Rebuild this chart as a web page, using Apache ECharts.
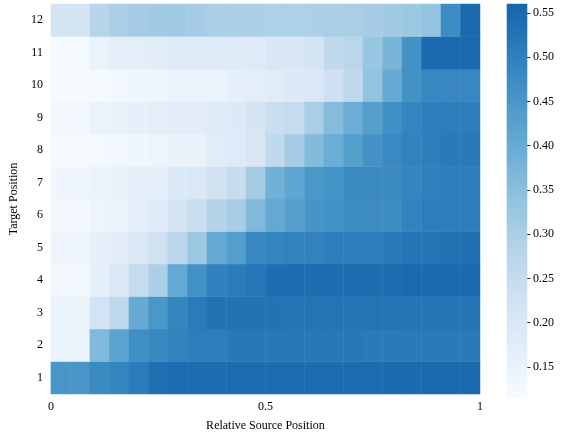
<!DOCTYPE html>
<html>
<head>
<meta charset="utf-8">
<script src="https://cdn.jsdelivr.net/npm/echarts@6/dist/echarts.min.js"></script>
<style>
html,body{margin:0;padding:0;background:#fff;}
#chart{width:566px;height:437px;}
</style>
</head>
<body>
<div id="chart"></div>
<script>
// Source-position bins (22 bins spanning 0..1)
const sourceBins = ['b0','b1','b2','b3','b4','b5','b6','b7','b8','b9','b10','b11','b12','b13','b14','b15','b16','b17','b18','b19','b20','b21'];
const targetPositions = ['1','2','3','4','5','6','7','8','9','10','11','12'];
const xTickValues = [0, 0.5, 1];
const colorbarTicks = [0.15, 0.20, 0.25, 0.30, 0.35, 0.40, 0.45, 0.50, 0.55];
const colorMin = 0.115;
const colorMax = 0.56;

const target1  = [0.45,0.45,0.478,0.49,0.51,0.537,0.545,0.545,0.545,0.545,0.545,0.545,0.545,0.545,0.545,0.545,0.545,0.547,0.548,0.55,0.55,0.55];
const target2  = [0.152,0.152,0.365,0.418,0.47,0.483,0.495,0.508,0.508,0.518,0.518,0.518,0.518,0.518,0.518,0.518,0.515,0.515,0.515,0.515,0.515,0.515];
const target3  = [0.15,0.15,0.218,0.262,0.4,0.448,0.49,0.512,0.53,0.53,0.53,0.53,0.528,0.528,0.528,0.528,0.528,0.528,0.525,0.525,0.525,0.525];
const target4  = [0.133,0.133,0.165,0.198,0.25,0.3,0.405,0.462,0.497,0.51,0.522,0.54,0.54,0.54,0.54,0.54,0.54,0.54,0.55,0.55,0.55,0.55];
const target5  = [0.14,0.14,0.165,0.175,0.195,0.225,0.27,0.325,0.405,0.432,0.485,0.49,0.495,0.495,0.505,0.508,0.508,0.515,0.525,0.525,0.53,0.535];
const target6  = [0.128,0.128,0.143,0.152,0.17,0.182,0.21,0.24,0.283,0.305,0.365,0.405,0.43,0.455,0.462,0.475,0.475,0.475,0.495,0.508,0.508,0.508];
const target7  = [0.135,0.135,0.147,0.155,0.163,0.165,0.192,0.196,0.22,0.245,0.308,0.385,0.415,0.447,0.458,0.478,0.478,0.478,0.49,0.5,0.508,0.508];
const target8  = [0.12,0.12,0.125,0.13,0.137,0.142,0.155,0.155,0.178,0.188,0.2,0.26,0.31,0.36,0.395,0.43,0.46,0.48,0.495,0.505,0.515,0.515];
const target9  = [0.133,0.133,0.15,0.155,0.163,0.17,0.175,0.175,0.185,0.192,0.208,0.24,0.25,0.302,0.358,0.395,0.43,0.468,0.49,0.508,0.508,0.508];
const target10 = [0.118,0.118,0.12,0.128,0.135,0.14,0.152,0.152,0.152,0.163,0.17,0.178,0.19,0.198,0.23,0.26,0.34,0.40,0.46,0.485,0.485,0.485];
const target11 = [0.12,0.12,0.15,0.168,0.17,0.175,0.183,0.183,0.185,0.185,0.186,0.2,0.2,0.215,0.26,0.275,0.33,0.375,0.46,0.55,0.55,0.55];
const target12 = [0.21,0.21,0.28,0.30,0.31,0.315,0.315,0.31,0.30,0.30,0.295,0.293,0.293,0.295,0.30,0.302,0.31,0.315,0.325,0.34,0.475,0.55];

const rows = [target1,target2,target3,target4,target5,target6,target7,target8,target9,target10,target11,target12];
const heatData = [];
rows.forEach((row, yi) => row.forEach((v, xi) => heatData.push([xi, yi, v])));

// Colorbar: a fine strip of values from colorMin to colorMax
const CB_STEPS = 197;
const cbCats = [];
const cbData = [];
for (let i = 0; i < CB_STEPS; i++) {
  cbCats.push(String(i));
  cbData.push([0, i, colorMin + (colorMax - colorMin) * (i + 0.5) / CB_STEPS]);
}

const blues = ['#f7fbff','#e3eef9','#d0e1f2','#b6d4e9','#94c4df','#6baed6','#4a98c9','#2e7ebc','#1764ab'];
const FONT = 'Liberation Serif';
const TXT = {color:'#000', fontFamily: FONT, fontSize: 12};

const chart = echarts.init(document.getElementById('chart'), null, {renderer:'canvas'});
chart.setOption({
  animation: false,
  backgroundColor: '#fff',
  grid: [
    {left: 50, top: 4, width: 430, height: 394},
    {left: 507, top: 4, width: 20, height: 394}
  ],
  xAxis: [
    {type:'category', data: sourceBins, gridIndex:0, show:false},
    {type:'value', gridIndex:0, min:0, max:1, interval:0.5, position:'bottom',
     axisLine:{show:false}, axisTick:{show:false}, splitLine:{show:false},
     axisLabel:{...TXT, margin:7, showMinLabel:true, showMaxLabel:true, customValues: xTickValues},
     name:'Relative Source Position', nameLocation:'middle', nameGap:26, nameTextStyle:{...TXT}},
    {type:'category', gridIndex:1, data:['c'], show:false}
  ],
  yAxis: [
    {type:'category', data: targetPositions, gridIndex:0,
     axisLine:{show:false}, axisTick:{show:false}, splitLine:{show:false},
     axisLabel:{...TXT, margin:8},
     name:'Target Position', nameLocation:'middle', nameGap:24, nameRotate:90, nameTextStyle:{...TXT}},
    {type:'category', gridIndex:1, data: cbCats, show:false, position:'left'},
    {type:'value', gridIndex:1, min:colorMin, max:colorMax, position:'right',
     axisLine:{show:false}, splitLine:{show:false},
     axisTick:{show:true, length:3.5, lineStyle:{color:'#000', width:0.8}, customValues: colorbarTicks},
     axisLabel:{...TXT, margin:6, customValues: colorbarTicks, formatter: v => v.toFixed(2)}}
  ],
  visualMap: {
    type:'continuous', min:colorMin, max:colorMax, seriesIndex:[0,1],
    show:false, inRange:{color: blues}
  },
  series: [
    {type:'heatmap', xAxisIndex:0, yAxisIndex:0, data: heatData,
     itemStyle:{borderWidth:0}, emphasis:{disabled:true}},
    {type:'heatmap', xAxisIndex:2, yAxisIndex:1, data: cbData,
     itemStyle:{borderWidth:0}, emphasis:{disabled:true}, silent:true}
  ]
});
</script>
</body>
</html>
